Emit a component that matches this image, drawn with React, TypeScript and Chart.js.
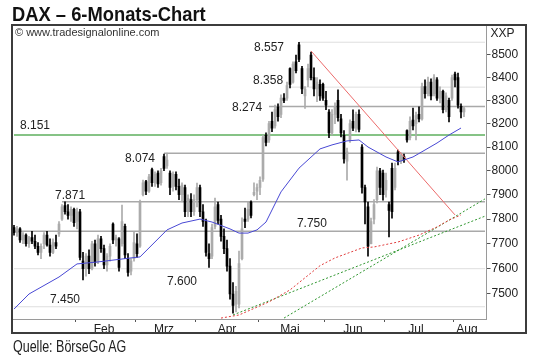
import { useEffect, useRef } from 'react';
import { Chart, registerables } from 'chart.js';
Chart.register(...registerables);

// trading days per month (2013)
const janDays = [3,4,7,8,9,10,11,14,15,16,17,18,21,22,23,24,25,28,29,30,31];
const febDays = [1,4,5,6,7,8,11,12,13,14,15,18,19,20,21,22,25,26,27,28];
const marDays = [1,4,5,6,7,8,11,12,13,14,15,18,19,20,21,22,25,26,27,28];
const aprDays = [2,3,4,5,8,9,10,11,12,15,16,17,18,19,22,23,24,25,26,29,30];
const mayDays = [2,3,6,7,8,9,10,13,14,15,16,17,20,21,22,23,24,27,28,29,30,31];
const junDays = [3,4,5,6,7,10,11,12,13,14,17,18,19,20,21,24,25,26,27,28];
const julDays = [1,2,3,4,5,8,9,10,11,12,15,16,17,18,19,22,23,24,25,26,29,30,31];
const augDays = [1,2,5,6];
const emptySlots = 7;

const monthLabels = ['Feb', 'Mrz', 'Apr', 'Mai', 'Jun', 'Jul', 'Aug'];
const monthLabelIdx = [30, 50, 71, 92, 113, 134, 151];
const monthStartIdx = [21, 41, 61, 82, 104, 124, 147];

const yTicks = [7500, 7600, 7700, 7800, 7900, 8000, 8100, 8200, 8300, 8400, 8500];

const opens = [7765,7745,7760,7715,7735,7700,7725,7710,7690,7665,7700,7735,7695,7665,7705,7740,7800,7855,7830,7815,7840,
7790,7830,7630,7600,7650,7600,7700,7630,7720,7680,7615,7650,7780,7715,7720,7700,7770,7640,7590,7640,
7700,7690,7900,7955,7915,8005,7950,7990,7950,8060,8020,7990,7935,7985,7935,7900,7930,7830,7880,7830,
7880,7930,7830,7790,7660,7650,7770,7860,7800,7730,7680,7610,7500,7460,7460,7640,7800,7800,7870,7900,7915,
7930,7965,8150,8130,8210,8190,8270,8240,8310,8310,8440,8380,8470,8545,8440,8320,8390,8500,8400,8350,8370,8370,
8300,8250,8160,8240,8300,8220,8150,8040,8130,8210,8180,8240,8100,7930,7850,7700,7800,7880,8000,7990,
7920,7860,8010,7930,8080,8040,8060,8170,8140,8215,8200,8240,8220,8360,8330,8380,8330,8390,8310,8340,8260,8300,8310,
8415,8400,8275,8250];
const highs = [7775,7770,7765,7745,7740,7730,7750,7735,7705,7700,7745,7750,7720,7720,7735,7790,7860,7871,7860,7850,7845,
7845,7840,7665,7660,7675,7710,7715,7735,7730,7695,7660,7700,7785,7735,7725,7857,7780,7660,7640,7750,
7740,7878,7961,7960,7985,8011,7995,8000,8010,8070,8074,8000,7995,7995,7965,7950,7940,7900,7905,7900,
7949,7940,7860,7800,7700,7780,7886,7870,7815,7760,7715,7640,7545,7530,7670,7805,7845,7870,7875,7950,7945,
7975,8151,8160,8210,8250,8280,8285,8324,8330,8380,8443,8470,8500,8557,8450,8360,8460,8513,8443,8400,8390,8376,
8340,8260,8260,8290,8346,8240,8170,8096,8216,8259,8250,8259,8110,7940,7870,7804,7880,8015,8010,8003,
7990,7870,8032,8032,8087,8075,8070,8173,8229,8267,8250,8272,8376,8390,8402,8395,8413,8400,8359,8345,8333,8310,8411,
8424,8420,8285,8272];
const lows = [7735,7730,7705,7700,7690,7685,7700,7680,7655,7640,7680,7690,7650,7660,7680,7730,7795,7820,7800,7790,7770,
7760,7635,7555,7570,7580,7595,7610,7620,7665,7600,7590,7630,7700,7690,7590,7690,7640,7570,7575,7630,
7645,7685,7895,7900,7910,7935,7935,7930,7940,8000,8010,7900,7915,7920,7880,7870,7810,7810,7810,7815,
7850,7810,7770,7650,7605,7640,7760,7780,7710,7660,7590,7480,7425,7430,7445,7635,7765,7790,7805,7895,7880,
7900,7955,8105,8120,8165,8180,8210,8225,8290,8300,8355,8375,8420,8470,8330,8265,8360,8390,8320,8295,8300,8300,
8260,8140,8150,8200,8210,8143,8032,7961,8120,8170,8164,8164,7907,7780,7650,7699,7780,7866,7900,7878,
7890,7728,7804,7920,8024,8030,8035,8121,8130,8173,8130,8207,8215,8310,8320,8302,8320,8300,8289,8246,8250,8207,8300,
8359,8267,8224,8230];
const closes = [7745,7760,7715,7735,7700,7725,7710,7690,7665,7690,7735,7695,7665,7705,7690,7780,7850,7830,7815,7840,7785,
7830,7645,7600,7650,7600,7700,7625,7720,7680,7615,7650,7690,7715,7725,7605,7790,7655,7585,7630,7705,
7660,7870,7950,7915,7975,7950,7985,7945,8000,8010,8045,7930,7985,7935,7900,7940,7830,7885,7830,7880,
7930,7830,7790,7665,7640,7765,7850,7795,7730,7680,7610,7500,7455,7510,7620,7760,7790,7840,7815,7910,7930,
7960,8140,8120,8200,8180,8260,8230,8310,8300,8365,8370,8460,8430,8480,8350,8350,8440,8400,8350,8380,8320,8310,
8280,8160,8240,8270,8225,8160,8050,8080,8200,8180,8240,8175,7930,7870,7690,7790,7860,8000,7930,7900,
7960,7835,7830,8010,8040,8065,8045,8130,8210,8190,8235,8220,8360,8330,8380,8320,8400,8310,8340,8260,8320,8230,8400,
8390,8280,8250,8265];

// indicator lines: [day index, value]
const blueAvg = [[0,7441],[5,7500],[15,7567],[21,7619],[28,7627],[39,7643],[42,7647],[51,7756],[56,7784],[62,7800],[66,7788],[72,7760],[75,7743],[78,7743],[81,7756],[84,7788],[89,7912],[95,8011],[102,8092],[106,8109],[111,8126],[115,8130],[118,8100],[124,8058],[128,8037],[133,8058],[141,8117],[145,8151],[149,8181]];
const redAvg = [[69,7406],[75,7418],[85,7469],[92,7516],[102,7612],[107,7643],[116,7683],[120,7687],[128,7707],[135,7735],[141,7768],[145,7796],[149,7817]];
const greenTrend1 = [[73,7418],[157,7812]];
const greenTrend2 = [[90,7406],[157,7883]];
const redTrend = [[99,8518],[147,7817]];

const levelValues = [8557, 8358, 8274, 8151, 8074, 7871, 7750, 7600, 7450];
const levelTexts = ['8.557', '8.358', '8.274', '8.151', '8.074', '7.871', '7.750', '7.600', '7.450'];
const levelStart = [95, 92, 85, 0, 50, 16, 0, 0, 0];
const levelKind = ['faint', 'faint', 'grey', 'green', 'grey', 'grey', 'grey', 'faint', 'faint'];
const levelLabelAt = [85, 84.7, 77.7, 7, 42, 18.7, 99.3, 56, 17];
const levelLabelDy = [5, -6, 1, -9, 6, -6, -8, 13, -7];

const FONT = '"Liberation Sans", Arial, sans-serif';

export default function App() {
  const ref = useRef<HTMLCanvasElement | null>(null);
  useEffect(() => {
    const monthsAll = [janDays, febDays, marDays, aprDays, mayDays, junDays, julDays, augDays];
    const labels: string[] = [];
    monthsAll.forEach((days, m) => days.forEach((d) => labels.push(`${d}.${m + 1}.2013`)));
    for (let k = 0; k < emptySlots; k++) labels.push(`e${k}`);
    const n = labels.length;

    const fromPairs = (pairs: number[][]) => {
      const arr: (number | null)[] = new Array(n).fill(null);
      pairs.forEach(([i, v]) => { arr[i] = v; });
      return arr;
    };
    const up = closes.map((c, i) => c >= opens[i]);
    const UPC = '#ababab';
    const DNC = '#000000';

    const levelDatasets = levelValues.map((v, k) => {
      const kind = levelKind[k];
      return {
        type: 'line' as const,
        data: fromPairs([[levelStart[k], v], [n - 1, v]]),
        borderColor: kind === 'green' ? '#86c386' : kind === 'grey' ? '#a9a9a9' : '#dedede',
        borderWidth: kind === 'green' ? 2 : kind === 'grey' ? 1.5 : 1,
        pointRadius: 0,
        spanGaps: true,
        order: 20,
      };
    });

    const lineDs = (pairs: number[][], color: string, dash: number[], width = 1) => ({
      type: 'line' as const,
      data: fromPairs(pairs),
      borderColor: color,
      borderWidth: width,
      borderDash: dash,
      pointRadius: 0,
      spanGaps: true,
      tension: 0,
      order: 1,
    });

    const overlay = {
      id: 'overlay',
      afterDraw(chart: any) {
        const { ctx, scales, chartArea } = chart;
        const x = scales.x, y = scales.y;
        ctx.save();
        ctx.strokeStyle = '#3c3c3c';
        ctx.lineWidth = 2;
        ctx.strokeRect(12, 25, 514, 308);
        ctx.fillStyle = '#222';
        ctx.font = `12px ${FONT}`;
        ctx.textAlign = 'center';
        ctx.textBaseline = 'middle';
        levelTexts.forEach((t, k) => {
          ctx.fillText(t, x.getPixelForValue(levelLabelAt[k]), y.getPixelForValue(levelValues[k]) + levelLabelDy[k]);
        });
        ctx.textAlign = 'left';
        ctx.fillText('XXP', chartArea.right + 4, 34);
        ctx.font = `11px ${FONT}`;
        ctx.fillStyle = '#333';
        ctx.fillText('\u00A9 www.tradesignalonline.com', 15, 33);
        ctx.restore();
      },
    };

    const chart = new Chart(ref.current as HTMLCanvasElement, {
      type: 'bar',
      data: {
        labels,
        datasets: [
          ...levelDatasets,
          {
            type: 'bar' as const,
            data: lows.map((l, i) => [l, highs[i]]),
            backgroundColor: up.map((u) => (u ? UPC : DNC)),
            barThickness: 1,
            grouped: false,
            order: 6,
          },
          {
            type: 'bar' as const,
            data: opens.map((o, i) => [Math.min(o, closes[i]), Math.max(o, closes[i])]),
            backgroundColor: up.map((u) => (u ? UPC : DNC)),
            barThickness: 2,
            minBarLength: 1,
            grouped: false,
            order: 5,
          },
          lineDs(blueAvg, '#4848d4', []),
          lineDs(redAvg, '#e03c3c', [2, 2]),
          lineDs(greenTrend1, '#2f962f', [2, 2]),
          lineDs(greenTrend2, '#2f962f', [2, 2]),
          lineDs(redTrend, '#ec6a6a', []),
        ] as any,
      },
      options: {
        responsive: false,
        animation: false,
        devicePixelRatio: 1,
        events: [],
        layout: { padding: { left: 12.5, right: 13.5, top: 26, bottom: 29 } },
        plugins: { legend: { display: false }, tooltip: { enabled: false }, title: { display: false } },
        scales: {
          x: {
            type: 'category',
            offset: true,
            grid: {
              display: true,
              drawOnChartArea: false,
              drawTicks: true,
              tickLength: 3,
              offset: true,
              color: 'rgba(0,0,0,0)',
              tickColor: (c: any) => (monthStartIdx.includes(c.index) ? '#555' : 'rgba(0,0,0,0)'),
            },
            border: { display: true, color: '#9a9a9a', width: 1 },
            ticks: {
              autoSkip: false,
              maxRotation: 0,
              minRotation: 0,
              padding: 0,
              color: '#222',
              font: { family: FONT, size: 12 },
              callback: (_v: any, idx: number) => {
                const k = monthLabelIdx.indexOf(idx);
                return k >= 0 ? monthLabels[k] : '';
              },
            },
            afterFit: (s: any) => { s.height = 14; },
          },
          y: {
            type: 'logarithmic',
            position: 'right',
            min: 7402.4,
            max: 8630,
            afterBuildTicks: (s: any) => { s.ticks = yTicks.map((v) => ({ value: v })); },
            grid: { drawOnChartArea: false, drawTicks: true, tickLength: 4, tickColor: '#555' },
            border: { display: true, color: '#9a9a9a', width: 1 },
            ticks: {
              padding: 1,
              color: '#222',
              font: { family: FONT, size: 12 },
              callback: (v: any) => String(v),
            },
            afterFit: (s: any) => { s.width = 40; },
          },
        },
      },
      plugins: [overlay],
    } as any);
    return () => chart.destroy();
  }, []);

  return (
    <div style={{ position: 'fixed', left: 0, top: 0, width: 540, height: 362, background: '#fff', overflow: 'hidden' }}>
      <canvas ref={ref} width={540} height={362} style={{ position: 'absolute', left: 0, top: 0, width: 540, height: 362 }} />
      <div style={{ position: 'absolute', left: 12, top: 3, fontFamily: FONT, fontWeight: 'bold', fontSize: 20.5, lineHeight: '21px', color: '#111', whiteSpace: 'nowrap', transform: 'scaleX(0.895)', transformOrigin: 'left top' }}>
        DAX – 6-Monats-Chart
      </div>
      <div style={{ position: 'absolute', left: 13, top: 338, fontFamily: FONT, fontSize: 17, lineHeight: '17px', color: '#222', whiteSpace: 'nowrap', transform: 'scaleX(0.735)', transformOrigin: 'left top' }}>
        Quelle: BörseGo AG
      </div>
    </div>
  );
}
